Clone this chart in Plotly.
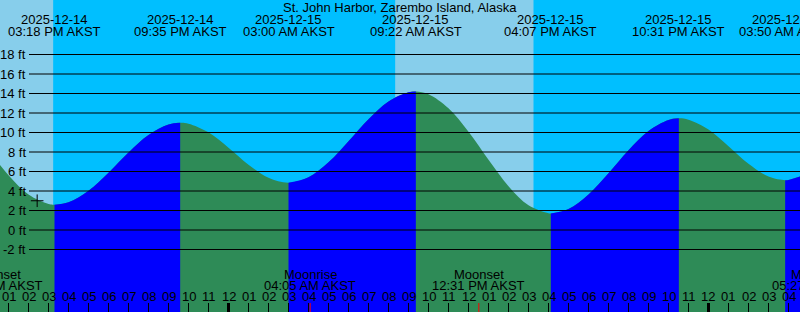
import plotly.graph_objects as go
import pandas as pd

BASE = pd.Timestamp("2025-12-14 00:00")


def hrs(s):
    return (pd.Timestamp(s) - BASE).total_seconds() / 3600.0


W, H = 800, 312

title = "St. John Harbor, Zarembo Island, Alaska"

# Tide extremes (high / low)
extreme_times = ["2025-12-14 15:18", "2025-12-14 21:35", "2025-12-15 03:00",
                 "2025-12-15 09:22", "2025-12-15 16:07", "2025-12-15 22:31",
                 "2025-12-16 03:50"]
extreme_heights = [2.6, 11.0, 4.85, 14.2, 1.7, 11.45, 5.1]
extreme_dates = ["2025-12-14", "2025-12-14", "2025-12-15", "2025-12-15",
                 "2025-12-15", "2025-12-15", "2025-12-16"]
extreme_clock = ["03:18 PM AKST", "09:35 PM AKST", "03:00 AM AKST",
                 "09:22 AM AKST", "04:07 PM AKST", "10:31 PM AKST",
                 "03:50 AM AKST"]

# Hourly tide heights (hours since 2025-12-14 00:00)
sample_hours = list(range(12, 54))
sample_heights = [8.19, 5.62, 3.63, 2.66, 2.85, 4.03, 5.88, 7.96, 9.75, 10.82,
                  10.91, 10.02, 8.44, 6.70, 5.35, 4.85, 5.41, 6.94, 9.10, 11.36,
                  13.18, 14.12, 13.93, 12.48, 10.07, 7.20, 4.50, 2.53, 1.71, 2.15,
                  3.64, 5.82, 8.18, 10.16, 11.29, 11.32, 10.31, 8.60, 6.79, 5.48,
                  5.12, 5.78]

# Daylight periods (rest is night)
day_starts = ["2025-12-14 11:00", "2025-12-15 08:20"]
day_ends = ["2025-12-14 15:14", "2025-12-15 15:15"]

# Moon events
moon_times = ["2025-12-14 12:23", "2025-12-15 04:05", "2025-12-15 12:31",
              "2025-12-16 05:27"]
moon_names = ["Moonset", "Moonrise", "Moonset", "Moonrise"]
moon_clock = ["12:23 PM AKST", "04:05 AM AKST", "12:31 PM AKST",
              "05:27 AM AKST"]

# Current time marker
now_time = "2025-12-14 14:26"
now_height = 3.0

# Height grid
ft_values = [-2, 0, 2, 4, 6, 8, 10, 12, 14, 16, 18]
ft_labels = ["-2 ft", "0 ft", "2 ft", "4 ft", "6 ft", "8 ft", "10 ft",
             "12 ft", "14 ft", "16 ft", "18 ft"]

# Hour ticks shown
tick_hours = list(range(13, 53))

X_RANGE = [12.575, 52.575]
Y_RANGE = [-8.41, 23.59]

FONT = "Liberation Sans, Arial, sans-serif"
NIGHT = "#00BFFF"
DAY = "#87CEEB"
RISE = "#0000FF"
FALL = "#2E8B57"


def py(px):
    return 1 - px / H


def px_x(px):
    return px / W


def hx(h):
    # hour value -> paper x (may lie outside 0..1 so labels can be cut at edges)
    return (h - X_RANGE[0]) / (X_RANGE[1] - X_RANGE[0])


# merge samples and extremes into one curve
ext_h = [hrs(t) for t in extreme_times]
pts = [(t, v) for t, v in zip(ext_h, extreme_heights)]
for t, v in zip(sample_hours, sample_heights):
    if all(abs(t - e) > 1e-6 for e in ext_h):
        pts.append((t, v))
pts.sort()
cx = [p[0] for p in pts]
cy = [p[1] for p in pts]

fig = go.Figure()

# whole curve filled as falling (green)
fig.add_trace(go.Scatter(x=[cx[0], cx[-1]], y=[-30, -30], mode="lines",
                         line=dict(width=0), hoverinfo="skip", showlegend=False))
fig.add_trace(go.Scatter(x=cx, y=cy, mode="lines", fill="tonexty",
                         fillcolor=FALL, line=dict(width=0, shape="spline", color=FALL),
                         hoverinfo="skip", showlegend=False))

# rising segments in blue
bounds = [cx[0]] + ext_h + [cx[-1]]
for a, b in zip(bounds[:-1], bounds[1:]):
    seg = [(t, v) for t, v in pts if a - 1e-6 <= t <= b + 1e-6]
    if seg[-1][1] > seg[0][1]:
        sx = [s[0] for s in seg]
        sy = [s[1] for s in seg]
        fig.add_trace(go.Scatter(x=[sx[0], sx[-1]], y=[-30, -30], mode="lines",
                                 line=dict(width=0), hoverinfo="skip", showlegend=False))
        fig.add_trace(go.Scatter(x=sx, y=sy, mode="lines", fill="tonexty",
                                 fillcolor=RISE,
                                 line=dict(width=0, shape="spline", color=RISE),
                                 hoverinfo="skip", showlegend=False))

# now marker
fig.add_trace(go.Scatter(x=[hrs(now_time)], y=[now_height], mode="markers",
                         marker=dict(symbol="cross-thin", size=9,
                                     line=dict(width=1, color="black")),
                         hoverinfo="skip", showlegend=False))

shapes = []
for s, e in zip(day_starts, day_ends):
    shapes.append(dict(type="rect", xref="x", yref="paper", x0=hrs(s), x1=hrs(e),
                       y0=0, y1=1, fillcolor=DAY, line=dict(width=0), layer="below"))

for v in ft_values:
    shapes.append(dict(type="line", xref="paper", yref="y", x0=px_x(29), x1=1,
                       y0=v, y1=v, line=dict(color="black", width=1), layer="above"))

for h in tick_hours:
    shapes.append(dict(type="line", xref="x", yref="paper", x0=h, x1=h,
                       y0=0, y1=9 / H,
                       line=dict(color="black", width=3 if h % 24 == 0 else 1),
                       layer="above"))

for t in moon_times:
    shapes.append(dict(type="line", xref="x", yref="paper", x0=hrs(t), x1=hrs(t),
                       y0=0, y1=9 / H, line=dict(color="red", width=1), layer="above"))

ann = []
font = dict(family=FONT, size=13, color="black")
ann.append(dict(text=title, x=0.5, xref="paper", y=py(7), yref="paper",
                xanchor="center", yanchor="middle", showarrow=False, font=font))
for t, d, c in zip(extreme_times, extreme_dates, extreme_clock):
    ann.append(dict(text=d, x=hx(hrs(t)), xref="paper", y=py(19.5), yref="paper",
                    xanchor="center", yanchor="middle", showarrow=False, font=font))
    ann.append(dict(text=c, x=hx(hrs(t)), xref="paper", y=py(31.5), yref="paper",
                    xanchor="center", yanchor="middle", showarrow=False, font=font))
for v, lab in zip(ft_values, ft_labels):
    ann.append(dict(text=lab, x=px_x(27.5), xref="paper", y=v, yref="y",
                    xanchor="right", yanchor="middle", showarrow=False, font=font))
for t, n, c in zip(moon_times, moon_names, moon_clock):
    ann.append(dict(text=n, x=hx(hrs(t)), xref="paper", y=py(274), yref="paper",
                    xanchor="center", yanchor="middle", showarrow=False, font=font))
    ann.append(dict(text=c, x=hx(hrs(t)), xref="paper", y=py(285), yref="paper",
                    xanchor="center", yanchor="middle", showarrow=False, font=font))
for h in tick_hours:
    lab = "%02d" % (12 if h % 12 == 0 else h % 12)
    ann.append(dict(text=lab, x=hx(h), xref="paper", y=py(296.5), yref="paper",
                    xanchor="center", yanchor="middle", showarrow=False, font=font))

fig.update_layout(
    width=W, height=H, margin=dict(l=0, r=0, t=0, b=0, pad=0),
    paper_bgcolor=NIGHT, plot_bgcolor=NIGHT, showlegend=False,
    xaxis=dict(range=X_RANGE, visible=False, fixedrange=True),
    yaxis=dict(range=Y_RANGE, visible=False, fixedrange=True),
    shapes=shapes, annotations=ann,
)

fig.write_html("out.html", config={"displayModeBar": False})
